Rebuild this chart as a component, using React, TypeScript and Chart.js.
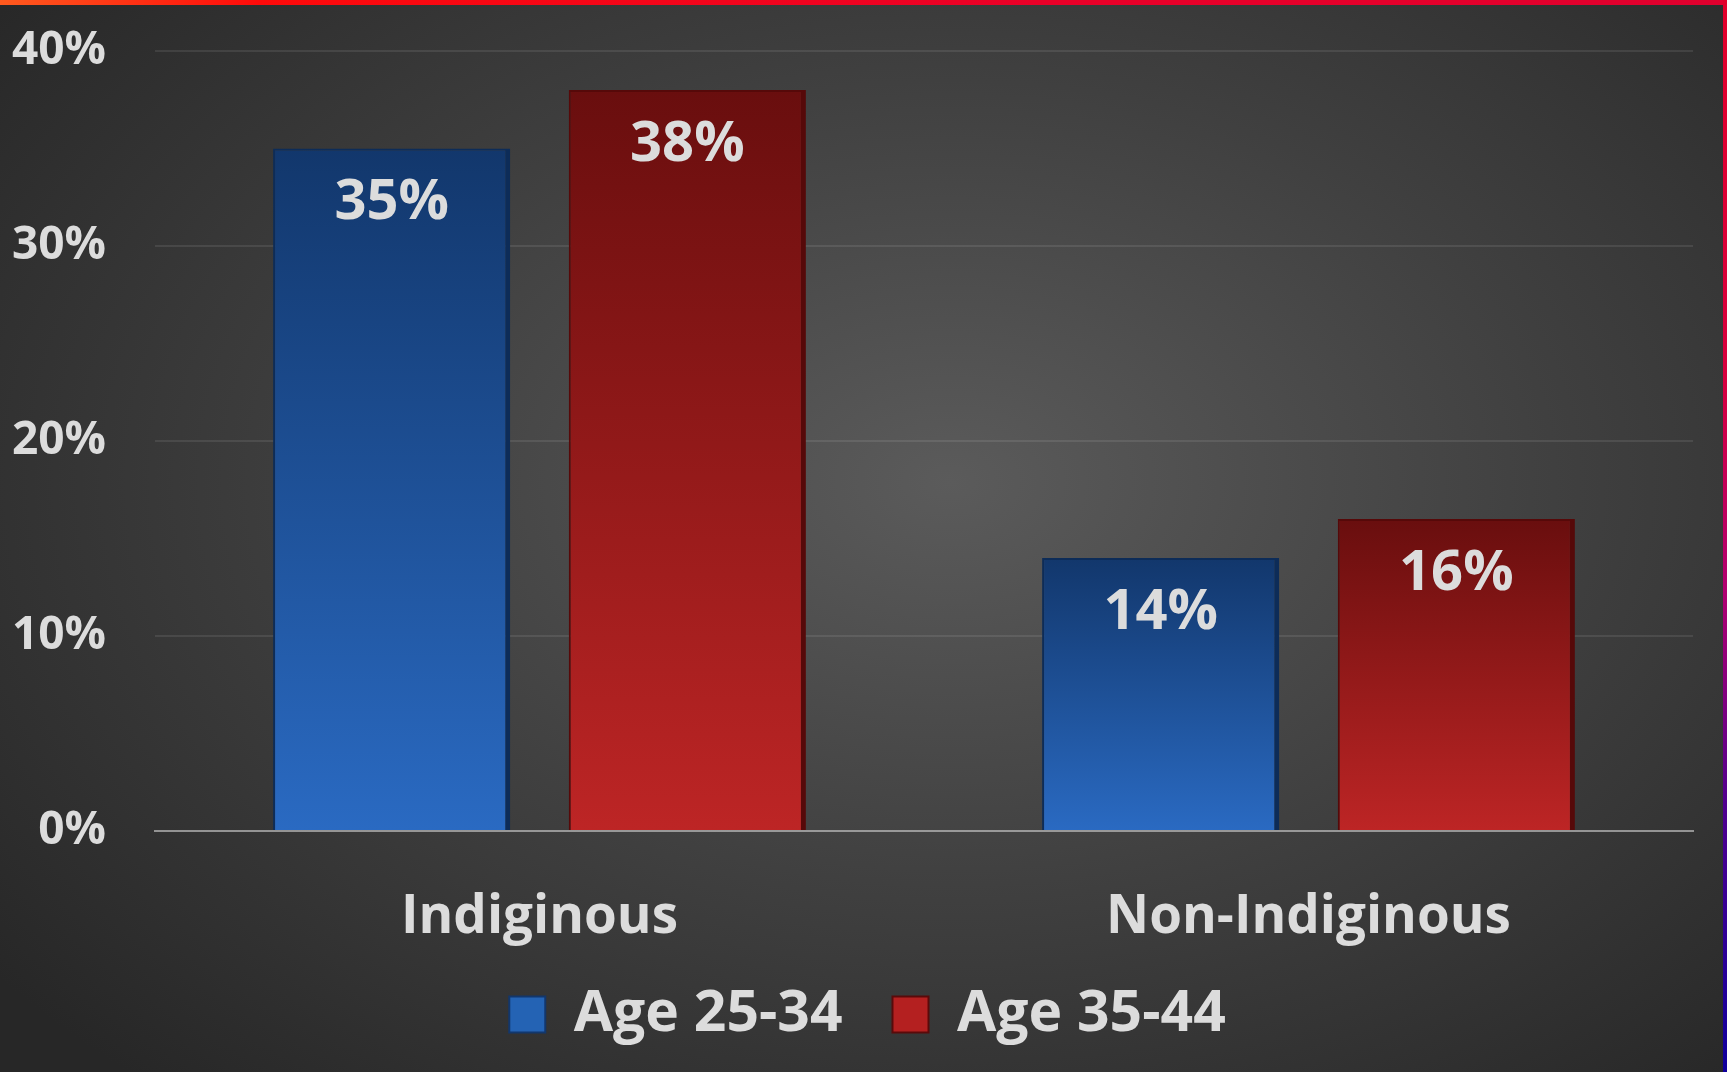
import React, { useEffect, useRef } from "react";
import { Chart, registerables } from "chart.js";

Chart.register(...registerables);

const categories = ["Indiginous", "Non-Indiginous"];
const seriesNames = ["Age 25-34", "Age 35-44"];
const age2534 = [35, 14];
const age3544 = [38, 16];
const yTicks = [0, 10, 20, 30, 40];

const FONT = "'Open Sans', 'Noto Sans', sans-serif";
const TEXT = "#dcdcdc";

const blueTop = "#12376c";
const blueBottom = "#2a6ac2";
const redTop = "#690e0e";
const redBottom = "#bd2525";

function gradFill(top: string, bottom: string) {
  return (c: any) => {
    const chart = c.chart;
    const y = chart.scales && chart.scales.y;
    if (!y || c.raw == null) return bottom;
    const y0 = y.getPixelForValue(c.raw);
    const y1 = y.getPixelForValue(0);
    const g = chart.ctx.createLinearGradient(0, y0, 0, y1);
    g.addColorStop(0, top);
    g.addColorStop(1, bottom);
    return g;
  };
}

const valueLabels = {
  id: "valueLabels",
  afterDatasetsDraw(chart: any) {
    const ctx = chart.ctx;
    ctx.save();
    ctx.font = `700 56px ${FONT}`;
    ctx.fillStyle = TEXT;
    ctx.textAlign = "center";
    ctx.textBaseline = "middle";
    chart.data.datasets.forEach((ds: any, di: number) => {
      const meta = chart.getDatasetMeta(di);
      meta.data.forEach((el: any, i: number) => {
        ctx.fillText(ds.data[i] + "%", el.x, el.y + 55);
      });
    });
    ctx.restore();
  },
};

// moves the legend box so that its items sit where the reference has them
const legendPlacer = {
  id: "legendPlacer",
  afterLayout(chart: any) {
    const lg = chart.legend;
    if (!lg) return;
    lg.top = 936;
    lg.bottom = 1072;
    lg.height = 136;
    lg.left += 21;
    lg.right += 21;
  },
};

export default function App() {
  const ref = useRef<HTMLCanvasElement | null>(null);

  useEffect(() => {
    document.body.style.margin = "0";
    if (!ref.current) return;
    const chart = new Chart(ref.current, {
      type: "bar",
      data: {
        labels: categories,
        datasets: [
          {
            label: seriesNames[0],
            data: age2534,
            backgroundColor: gradFill(blueTop, blueBottom),
            borderColor: "#0d2c58",
            borderWidth: { left: 2, right: 5, top: 2, bottom: 0 },
            borderSkipped: false,
          },
          {
            label: seriesNames[1],
            data: age3544,
            backgroundColor: gradFill(redTop, redBottom),
            borderColor: "#560909",
            borderWidth: { left: 2, right: 5, top: 2, bottom: 0 },
            borderSkipped: false,
          },
        ],
      },
      options: {
        responsive: false,
        animation: false,
        categoryPercentage: 0.769,
        barPercentage: 0.802,
        layout: { padding: { left: 0, right: 34, top: 51, bottom: 44 } },
        plugins: {
          tooltip: { enabled: false },
          legend: {
            display: true,
            position: "bottom",
            maxHeight: 78,
            labels: {
              color: TEXT,
              font: { family: FONT, size: 57, weight: "700" },
              boxWidth: 36,
              boxHeight: 36,
              padding: 50,
              generateLabels: () => [
                {
                  text: seriesNames[0],
                  fillStyle: "#2463b4",
                  strokeStyle: "#12376c",
                  lineWidth: 2,
                  fontColor: TEXT,
                  datasetIndex: 0,
                  hidden: false,
                },
                {
                  text: seriesNames[1],
                  fillStyle: "#b42020",
                  strokeStyle: "#5a0a0a",
                  lineWidth: 2,
                  fontColor: TEXT,
                  datasetIndex: 1,
                  hidden: false,
                },
              ],
            },
          },
        },
        scales: {
          x: {
            z: 1,
            grid: { display: false, drawTicks: false },
            border: { display: true, color: "rgba(200,200,200,0.65)", width: 2 },
            ticks: {
              color: TEXT,
              font: { family: FONT, size: 53, weight: "700" },
              padding: 55,
            },
            afterFit: (s: any) => {
              s.height = 119;
            },
          },
          y: {
            min: 0,
            max: 40,
            afterBuildTicks: (s: any) => {
              s.ticks = yTicks.map((v) => ({ value: v }));
            },
            grid: {
              drawTicks: false,
              color: (c: any) => (c.tick && c.tick.value === 0 ? "rgba(0,0,0,0)" : "rgba(255,255,255,0.09)"),
              lineWidth: 2,
            },
            border: { display: false },
            ticks: {
              color: TEXT,
              font: { family: FONT, size: 46, weight: "700" },
              padding: 49,
              callback: (v: any) => v + "%",
            },
            afterFit: (s: any) => {
              s.width = 155;
              s.paddingTop = 0;
              s.paddingBottom = 0;
            },
          },
        },
      },
      plugins: [valueLabels, legendPlacer],
    });
    return () => chart.destroy();
  }, []);

  return (
    <div
      style={{
        position: "fixed",
        left: 0,
        top: 0,
        width: 1727,
        height: 1072,
        overflow: "hidden",
        background:
          "radial-gradient(ellipse 70% 75% at 55% 45%, #5b5b5b 0%, #404040 50%, #272727 100%)",
      }}
    >
      <canvas ref={ref} width={1727} height={1072} style={{ display: "block", width: 1727, height: 1072 }} />
      <div
        style={{
          position: "absolute",
          left: 0,
          top: 0,
          width: 1727,
          height: 5,
          background: "linear-gradient(to right, #ff5a1e 0%, #ff0a0a 15%, #ea0028 60%, #e0002e 100%)",
        }}
      />
      <div
        style={{
          position: "absolute",
          left: 1723,
          top: 0,
          width: 4,
          height: 1072,
          background:
            "linear-gradient(to bottom, #e0002a 0%, #d6003e 35%, #b00070 55%, #50008e 75%, #10009c 100%)",
        }}
      />
    </div>
  );
}
